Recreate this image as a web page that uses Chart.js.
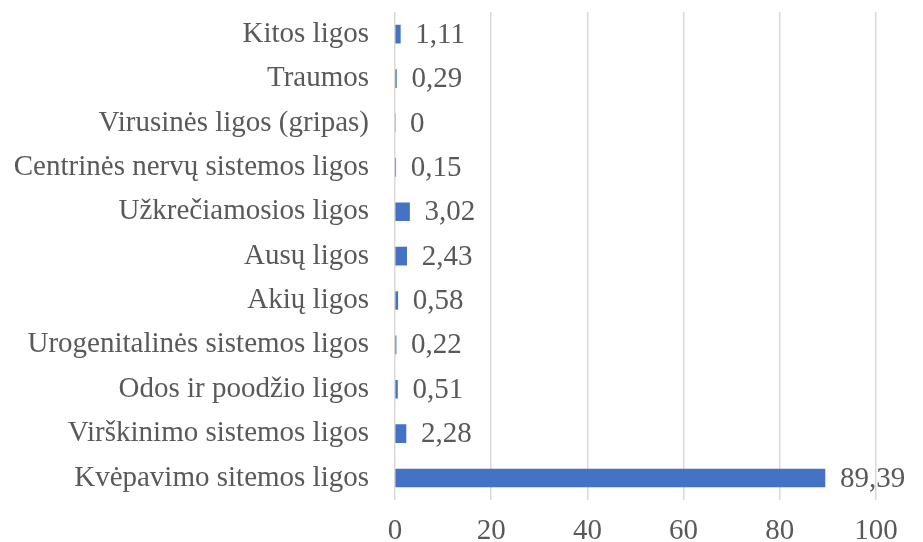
<!DOCTYPE html>
<html>
<head>
<meta charset="utf-8">
<script src="https://cdn.jsdelivr.net/npm/chart.js@4"></script>
<style>
  html, body { margin: 0; padding: 0; background: #fff; overflow: hidden; }
  #wrap { width: 923px; height: 565px; position: relative; }
</style>
</head>
<body>
<div id="wrap"><canvas id="barChart"></canvas></div>
<script>
const categories = [
  'Kitos ligos',
  'Traumos',
  'Virusinės ligos (gripas)',
  'Centrinės nervų sistemos ligos',
  'Užkrečiamosios ligos',
  'Ausų ligos',
  'Akių ligos',
  'Urogenitalinės sistemos ligos',
  'Odos ir poodžio ligos',
  'Virškinimo sistemos ligos',
  'Kvėpavimo sitemos ligos'
];
const values = [1.11, 0.29, 0, 0.15, 3.02, 2.43, 0.58, 0.22, 0.51, 2.28, 89.39];
const xTicks = [0, 20, 40, 60, 80, 100];

const FONT = '"Liberation Serif", "Times New Roman", serif';
const TEXT = '#595959';
const SIZE = 29;

const valueLabels = {
  id: 'valueLabels',
  afterDatasetsDraw(chart) {
    const ctx = chart.ctx;
    const meta = chart.getDatasetMeta(0);
    ctx.save();
    ctx.font = SIZE + 'px ' + FONT;
    ctx.fillStyle = TEXT;
    ctx.textAlign = 'left';
    ctx.textBaseline = 'middle';
    meta.data.forEach((bar, i) => {
      const txt = String(values[i]).replace('.', ',');
      ctx.fillText(txt, bar.x + 15, bar.y + 1);
    });
    ctx.restore();
  }
};

new Chart(document.getElementById('barChart').getContext('2d'), {
  type: 'bar',
  data: {
    labels: categories,
    datasets: [{
      data: values,
      backgroundColor: '#4472C4',
      barThickness: 18
    }]
  },
  options: {
    indexAxis: 'y',
    responsive: true,
    maintainAspectRatio: false,
    animation: false,
    layout: { padding: { top: 12, right: 47, bottom: 2, left: 0 } },
    plugins: {
      legend: { display: false },
      tooltip: { enabled: false }
    },
    scales: {
      x: {
        min: 0,
        max: 100,
        afterBuildTicks(axis) { axis.ticks = xTicks.map(v => ({ value: v })); },
        grid: { color: '#d9d9d9', lineWidth: 1.5, drawTicks: false },
        border: { display: false },
        ticks: { color: TEXT, font: { family: FONT, size: SIZE }, padding: 14 }
      },
      y: {
        grid: { display: false, drawTicks: false },
        border: { display: false },
        ticks: { color: TEXT, font: { family: FONT, size: SIZE }, padding: 26 },
        afterFit(axis) {
          axis.paddingTop = 0;
          axis.paddingBottom = 0;
          axis.width = 395;
        }
      }
    }
  },
  plugins: [valueLabels]
});
</script>
</body>
</html>
